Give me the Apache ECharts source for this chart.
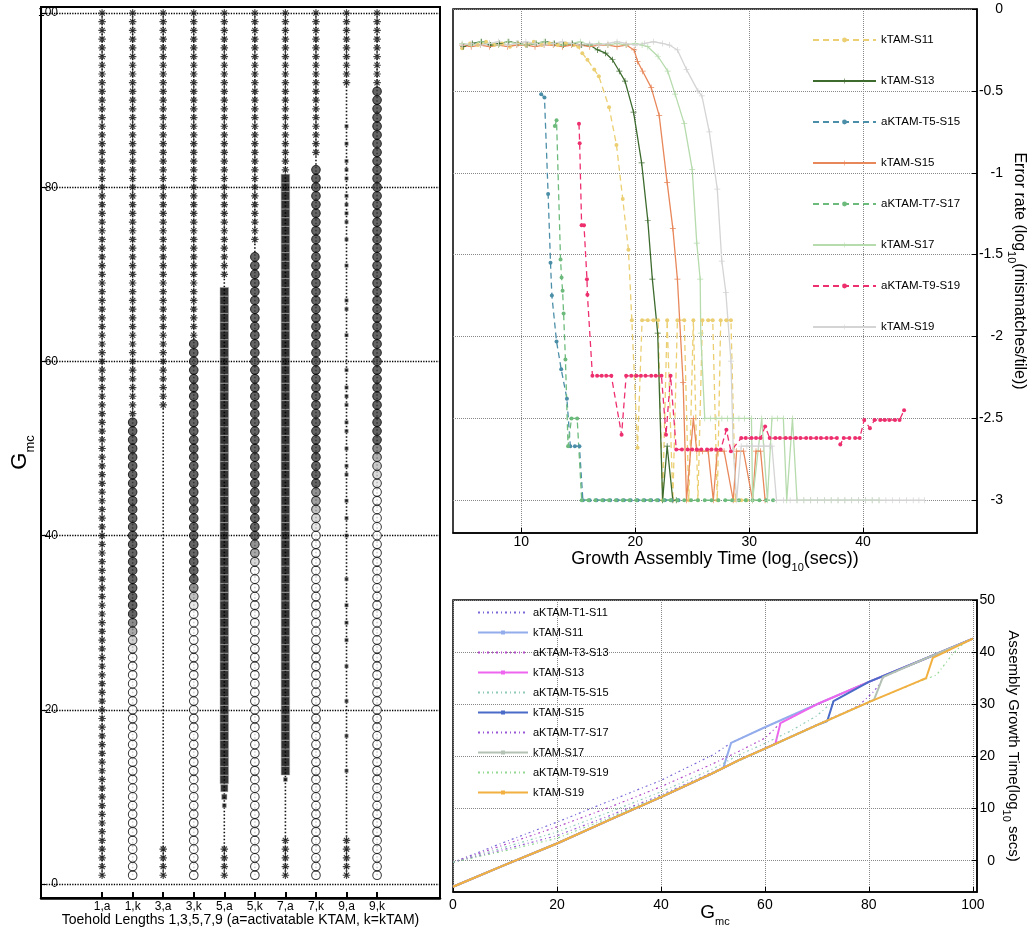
<!DOCTYPE html>
<html>
<head>
<meta charset="utf-8">
<script src="https://cdn.jsdelivr.net/npm/echarts@6.0.0/dist/echarts.min.js"></script>
<style>html,body{margin:0;background:#fff}#main{width:1029px;height:930px}</style>
</head>
<body>
<div id="main"></div>
<script>
// ---------- left panel: toehold columns vs Gmc ----------
var toeholdCols = ['1,a', '1,k', '3,a', '3,k', '5,a', '5,k', '7,a', '7,k', '9,a', '9,k'];
// Gmc ranges drawn with the asterisk mark, per column
var starRuns = [[[1, 100]], [[54, 100]], [[1, 4], [55, 100]], [[63, 100]], [[1, 4], [70, 100]],
                [[74, 100]], [[1, 5], [82, 100]], [[84, 100]], [[1, 5], [92, 100]], [[92, 100]]];
// kTAM columns (1,k 3,k 5,k 7,k 9,k): highest circle, lowest fully dark circle, fading levels below it
var circleTop = [53, 62, 72, 82, 91];
var circleDarkFrom = [31, 35, 40, 46, 51];
var circleFade = [[0.75, 0.55, 0.3, 0.15], [0.7, 0.4, 0.15], [0.7, 0.55, 0.25],
                  [0.7, 0.6, 0.4, 0.25, 0.15], [0.75, 0.5, 0.35, 0.25, 0.15]];
// activatable columns: runs of filled squares [from, to, level]
var blockRuns5a = [[12, 68, 1], [11, 11, 0.8], [10, 10, 0.5], [9, 9, 0.3]];
var blockRuns7a = [[13, 81, 1], [12, 12, 0.3]];
var nineASquares = [87, 85, 83, 82, 81, 79, 78, 77, 76, 74, 71, 67, 66, 63, 59, 57, 56, 55, 53, 52,
                    50, 48, 47, 44, 42, 40, 35, 32, 30, 28, 25, 21, 17, 13];

// ---------- top right: error rate vs growth time ----------
var floorLevel = -3;
var trS11 = [[4.8,-0.24],[5.5,-0.21],[6.2,-0.22],[6.9,-0.2],[7.6,-0.22],[8.3,-0.21],[9.0,-0.23],[9.7,-0.21],[10.4,-0.22],[11.1,-0.2],[11.8,-0.22],[12.5,-0.21],[13.2,-0.22],[13.9,-0.21],[14.6,-0.22],[15.0,-0.23],[15.35,-0.27],[15.8,-0.31],[16.4,-0.37],[16.8,-0.41],[17.7,-0.6],[18.35,-0.83],[18.9,-1.16],[19.4,-1.47],[19.7,-1.9],[20.2,-2.68],[20.6,-1.9],[21.1,-1.9],[21.6,-1.9],[22.0,-1.9],[22.4,-3],[22.8,-1.9],[23.3,-3],[23.7,-1.9],[24.3,-1.9],[24.7,-3],[25.1,-1.9],[25.5,-3],[25.9,-1.9],[26.4,-1.9],[26.8,-1.9],[27.2,-3],[27.5,-1.9],[28.0,-1.9],[28.4,-1.9],[28.8,-3],[29.3,-3],[29.8,-3]];
var trS13 = [[4.9,-0.23],[5.7,-0.21],[6.5,-0.2],[7.3,-0.22],[8.1,-0.21],[8.9,-0.2],[9.7,-0.21],[10.5,-0.22],[11.3,-0.21],[12.1,-0.2],[12.9,-0.21],[13.7,-0.22],[14.5,-0.21],[15.3,-0.22],[16.0,-0.22],[16.7,-0.25],[17.4,-0.27],[18.0,-0.31],[18.6,-0.38],[19.1,-0.44],[19.85,-0.63],[20.56,-0.94],[21.1,-1.29],[21.5,-1.65],[21.97,-1.98],[22.4,-3],[22.8,-2.67],[23.3,-3],[23.6,-3]];
var trT5 = [[11.74,-0.52],[12.03,-0.54],[12.35,-1.13],[12.56,-1.55],[12.68,-1.75],[13.09,-2.03],[13.5,-2.2],[14.0,-2.38],[14.3,-2.67],[14.7,-2.67],[15.1,-2.67],[15.4,-3]];
var trT5Floor = [16.0,16.6,17.2,17.8,18.4,19.0,19.6,20.2,20.8,21.4,22.0,22.6,23.2,23.8];
var trS15 = [[4.8,-0.22],[5.6,-0.23],[6.4,-0.22],[7.2,-0.23],[8.0,-0.22],[8.8,-0.23],[9.6,-0.22],[10.4,-0.22],[11.2,-0.23],[12.0,-0.22],[12.8,-0.22],[13.6,-0.23],[14.4,-0.22],[15.2,-0.22],[16.0,-0.23],[16.8,-0.22],[17.6,-0.22],[18.4,-0.23],[19.2,-0.22],[19.9,-0.25],[20.2,-0.32],[20.65,-0.38],[21.4,-0.48],[22.1,-0.65],[22.8,-1.06],[23.3,-1.34],[23.7,-1.65],[24.2,-2.28],[24.5,-3],[25.1,-2.5],[25.4,-2.7],[25.9,-2.7],[26.4,-2.7],[26.85,-3],[27.2,-2.7],[27.8,-2.7],[28.6,-3],[28.9,-2.7],[29.5,-2.7],[30.3,-3],[30.6,-2.7],[31.0,-2.7],[31.4,-3]];
var trT7 = [[12.94,-0.715],[13.09,-0.68],[13.44,-1.53],[13.53,-1.64],[13.62,-1.72],[13.71,-1.86],[13.87,-2.14],[14.1,-2.67],[14.4,-2.5],[14.9,-2.5],[15.3,-3]];
var trT7Floor = [15.9,16.5,17.1,17.7,18.3,18.9,19.5,20.1,20.7,21.3,21.9,22.5,23.1,23.7,24.3,24.9,25.5,26.1,26.7,27.3,27.9,28.5,29.1,29.7,30.3,30.9,31.5,32.1];
var trS17 = [[4.8,-0.21],[5.6,-0.22],[6.4,-0.2],[7.2,-0.21],[8.0,-0.22],[8.8,-0.2],[9.6,-0.21],[10.4,-0.22],[11.2,-0.21],[12.0,-0.2],[12.8,-0.21],[13.6,-0.22],[14.4,-0.21],[15.2,-0.2],[16.0,-0.22],[16.8,-0.21],[17.6,-0.22],[18.4,-0.21],[19.2,-0.22],[20.0,-0.21],[20.6,-0.22],[21.1,-0.23],[22.0,-0.29],[22.85,-0.38],[23.5,-0.52],[24.3,-0.7],[25.0,-0.98],[25.4,-1.43],[25.7,-1.65],[25.75,-1.98],[26.1,-2.5],[26.6,-2.5],[27.1,-2.5],[27.6,-2.5],[28.1,-2.5],[28.6,-2.5],[29.1,-2.5],[29.6,-2.5],[30.2,-2.5],[30.3,-3],[31.1,-2.5],[31.6,-3],[32.0,-2.5],[32.5,-2.5],[33.0,-2.5],[33.3,-3],[33.8,-2.5],[34.2,-3]];
var trS17Floor = [34.8,35.4,36.0,36.6,37.2,37.8,38.4,39.0,39.6,40.2,40.8,41.4];
var trT9 = [[15.06,-0.7],[15.12,-0.82],[15.29,-1.32],[15.5,-1.32],[15.76,-1.65],[15.8,-1.745],[16.24,-2.24],[16.65,-2.24],[17.05,-2.24],[17.45,-2.24],[17.9,-2.24],[18.8,-2.6],[19.2,-2.24],[19.65,-2.24],[20.1,-2.24],[20.5,-2.24],[20.9,-2.24],[21.4,-2.24],[21.8,-2.24],[22.3,-2.24],[22.7,-2.6],[23.1,-2.24],[23.6,-2.69],[24.1,-2.69],[24.6,-2.69],[25.0,-2.69],[25.4,-2.69],[25.8,-2.69],[26.3,-2.69],[26.7,-2.69],[27.1,-2.69],[27.5,-2.69],[28.0,-2.57],[28.4,-2.7],[29.3,-2.62],[29.7,-2.62],[30.2,-2.62],[30.6,-2.62],[31.0,-2.62],[31.4,-2.55],[31.8,-2.62],[32.3,-2.62],[32.7,-2.62],[33.2,-2.62],[33.6,-2.62],[34.1,-2.62],[34.5,-2.62],[35.0,-2.62],[35.4,-2.62],[35.9,-2.62],[36.3,-2.62],[36.8,-2.62],[37.2,-2.62],[37.7,-2.62],[38.0,-2.66],[38.3,-2.62],[38.8,-2.62],[39.3,-2.62],[39.7,-2.62],[40.1,-2.51],[40.6,-2.56],[41.0,-2.51],[41.5,-2.51],[41.9,-2.51],[42.3,-2.51],[42.8,-2.51],[43.2,-2.51],[43.6,-2.45]];
var trS19 = [[4.8,-0.22],[5.6,-0.21],[6.4,-0.22],[7.2,-0.21],[8.0,-0.2],[8.8,-0.22],[9.6,-0.21],[10.4,-0.2],[11.2,-0.21],[12.0,-0.22],[12.8,-0.21],[13.6,-0.2],[14.4,-0.21],[15.2,-0.22],[16.0,-0.21],[16.8,-0.22],[17.6,-0.21],[18.4,-0.2],[19.2,-0.21],[20.0,-0.22],[20.8,-0.21],[21.6,-0.2],[22.4,-0.21],[23.0,-0.22],[23.7,-0.25],[24.5,-0.37],[25.5,-0.5],[25.85,-0.53],[26.5,-0.75],[27.2,-1.1],[27.6,-1.54],[27.95,-1.73],[28.4,-2.15],[28.6,-2.69],[28.9,-3],[29.3,-2.67],[29.8,-2.67],[30.3,-2.67],[30.8,-2.67],[31.3,-2.67],[31.8,-2.67],[32.0,-2.67],[32.4,-3]];
var trS19Floor = [33.0,33.6,34.2,34.8,35.4,36.0,36.6,37.2,37.8,38.4,39.0,39.6,40.2,40.8,41.4,42.0,42.6,43.2,43.8,44.4,44.9,45.4];

// ---------- bottom right: assembly growth time vs Gmc ----------
var brT1S11 = [[0,-0.3],[10,3.6],[20,7.4],[30,11.4],[40,15.4],[50,20.3],[53.5,22.6],[60,25.6],[70,30.0],[80,34.3],[90,38.4],[100,42.6]];
var brS11 = [[0,-5],[10,-0.8],[20,3.3],[30,7.8],[40,12.2],[50,16.8],[52,17.8],[53.5,22.6],[60,25.6],[70,30.0],[80,34.3],[90,38.4],[100,42.6]];
var brT3S13 = [[0,-0.3],[10,3.1],[20,6.5],[30,10.2],[40,14.2],[50,18.6],[55,21.0],[60,23.5],[63,26.4],[70,30.0],[80,34.3],[90,38.4],[100,42.6]];
var brS13 = [[0,-5],[10,-0.8],[20,3.3],[30,7.8],[40,12.2],[50,16.8],[55,19.3],[60,21.5],[62,22.4],[63,26.4],[70,30.0],[80,34.3],[90,38.4],[100,42.6]];
var brT5S15 = [[0,-0.3],[10,2.6],[20,5.5],[30,9.3],[40,13.2],[50,17.6],[55,20.3],[60,22.5],[65,24.9],[70,27.8],[73.2,30.6],[80,34.3],[90,38.4],[100,42.6]];
var brS15 = [[0,-5],[10,-0.8],[20,3.3],[30,7.8],[40,12.2],[50,16.8],[55,19.3],[60,21.5],[70,26.0],[72,26.8],[73.2,30.6],[80,34.3],[90,38.4],[100,42.6]];
var brT7S17 = [[0,-0.3],[10,2.2],[20,4.8],[30,8.6],[40,12.6],[50,17.0],[60,21.6],[70,26.1],[78,29.7],[81,32.5],[83,35.3],[90,38.4],[100,42.6]];
var brS17 = [[0,-5],[10,-0.8],[20,3.3],[30,7.8],[40,12.2],[50,16.8],[55,19.3],[60,21.5],[70,26.0],[80,30.4],[81,30.9],[82.7,35.2],[90,38.4],[100,42.6]];
var brT9S19 = [[0,-0.3],[10,1.9],[20,4.3],[30,8.2],[40,12.4],[50,16.9],[60,21.4],[70,26.0],[80,30.4],[90,34.5],[93,35.6],[96,39.5],[98,41.5],[100,42.6]];
var brS19 = [[0,-5],[10,-0.8],[20,3.3],[30,7.8],[40,12.2],[50,16.8],[55,19.3],[60,21.5],[70,26.0],[80,30.4],[90,34.6],[91,35.0],[92.3,38.9],[100,42.6]];

var leftTicks = [0, 20, 40, 60, 80, 100];
var errTicks = [0, -0.5, -1, -1.5, -2, -2.5, -3];
var timeTicks = [10, 20, 30, 40];
var gmcTicks = [0, 20, 40, 60, 80, 100];
var growthTicks = [0, 10, 20, 30, 40, 50];

var font = 'Liberation Sans';
var starPath = 'path://M4.2 0h1.6v10h-1.6z M0 4.2h10v1.6h-10z M0.93 2.07L2.07 0.93L9.07 7.93L7.93 9.07z M7.93 0.93L9.07 2.07L2.07 9.07L0.93 7.93z';
var plusPath = 'path://M4.4 0h1.2v4.4h4.4v1.2h-4.4v4.4h-1.2v-4.4h-4.4v-1.2h4.4z';

function shade(level) {
    var g = Math.round(255 - level * 194);
    return 'rgb(' + g + ',' + g + ',' + g + ')';
}
function floorPts(xs) {
    return xs.map(function (x) { return [x, floorLevel]; });
}

// build left panel marks
var starPts = [];
starRuns.forEach(function (runs, i) {
    runs.forEach(function (r) {
        for (var v = r[0]; v <= r[1]; v++) starPts.push([i + 1, v]);
    });
});
var circlePts = [];
circleTop.forEach(function (top, j) {
    var x = 2 * j + 2;
    for (var v = 1; v <= top; v++) {
        var lvl = v >= circleDarkFrom[j] ? 1 : (circleFade[j][circleDarkFrom[j] - 1 - v] || 0);
        circlePts.push({ value: [x, v], itemStyle: { color: shade(lvl) } });
    }
});
var squarePts = [];
[[5, blockRuns5a], [7, blockRuns7a]].forEach(function (c) {
    c[1].forEach(function (r) {
        for (var v = r[0]; v <= r[1]; v++)
            squarePts.push({ value: [c[0], v], symbolSize: 2 + r[2] * 6.5 });
    });
});
nineASquares.forEach(function (v) {
    squarePts.push({ value: [9, v], symbolSize: 3.5 });
});

var columnLines = toeholdCols.map(function (c, i) {
    return {
        type: 'line', xAxisIndex: 0, yAxisIndex: 0, data: [[i + 1, 1], [i + 1, 100]],
        symbol: 'none', silent: true, z: 1,
        lineStyle: { color: '#111', width: 1.6, type: [1.5, 2] }
    };
});

function trLine(name, data, color, dashed) {
    return {
        name: name, type: 'line', xAxisIndex: 1, yAxisIndex: 1, data: data,
        symbol: dashed ? 'circle' : plusPath, symbolSize: dashed ? 4 : 6,
        itemStyle: { color: color },
        lineStyle: { color: color, width: 1.3, type: dashed ? [6, 4] : 'solid' }
    };
}
function brLine(name, data, color, dotted) {
    return {
        name: name + ' ', type: 'line', xAxisIndex: 2, yAxisIndex: 2, data: data,
        symbol: 'rect', symbolSize: 4, showSymbol: false,
        itemStyle: { color: dotted ? 'rgba(0,0,0,0)' : color },
        lineStyle: { color: color, width: dotted ? 1.2 : 2, type: dotted ? [2, 3, 1, 3] : 'solid' }
    };
}

var trSeries = [
    trLine('kTAM-S11', trS11, '#ebcf72', true),
    trLine('kTAM-S13', trS13, '#3d6b2e', false),
    trLine('aKTAM-T5-S15', trT5.concat(floorPts(trT5Floor)), '#4b8ea8', true),
    trLine('kTAM-S15', trS15, '#e8875a', false),
    trLine('aKTAM-T7-S17', trT7.concat(floorPts(trT7Floor)), '#6dbb7c', true),
    trLine('kTAM-S17', trS17.concat(floorPts(trS17Floor)), '#b6dbad', false),
    trLine('aKTAM-T9-S19', trT9, '#ee2f6e', true),
    trLine('kTAM-S19', trS19.concat(floorPts(trS19Floor)), '#d4d4d4', false)
];
var brSeries = [
    brLine('aKTAM-T1-S11', brT1S11, '#7a6ad8', true),
    brLine('kTAM-S11', brS11, '#93acec', false),
    brLine('aKTAM-T3-S13', brT3S13, '#b048c8', true),
    brLine('kTAM-S13', brS13, '#ee66ee', false),
    brLine('aKTAM-T5-S15', brT5S15, '#8fcab8', true),
    brLine('kTAM-S15', brS15, '#4a6cc8', false),
    brLine('aKTAM-T7-S17', brT7S17, '#9a58d8', true),
    brLine('kTAM-S17', brS17, '#b4c2b4', false),
    brLine('aKTAM-T9-S19', brT9S19, '#92d892', true),
    brLine('kTAM-S19', brS19, '#f2b040', false)
];

var dotted = { type: 'dotted', color: '#888', width: 1 };
var sub = { fontSize: 11, verticalAlign: 'bottom', padding: [0, 0, -5, 0], fontFamily: font, color: '#000' };

var myChart = echarts.init(document.getElementById('main'));
var option = {
    animation: false,
    textStyle: { fontFamily: font, color: '#000' },
    grid: [
        { left: 41, top: 7, width: 399, height: 891, show: true, borderColor: '#000', borderWidth: 2,
          containLabel: false, outerBoundsMode: 'none' },
        { left: 453, top: 9, width: 524, height: 524, show: true, borderColor: '#000', borderWidth: 1.5,
          containLabel: false, outerBoundsMode: 'none' },
        { left: 453, top: 600, width: 524, height: 292, show: true, borderColor: '#000', borderWidth: 1.5,
          containLabel: false, outerBoundsMode: 'none' }
    ],
    legend: [
        {
            data: trSeries.map(function (s) { return s.name; }),
            orient: 'vertical', left: 807, top: 29, itemWidth: 63, itemHeight: 6, itemGap: 29,
            selectedMode: false, textStyle: { fontSize: 11.5, color: '#000' }
        },
        {
            data: brSeries.map(function (s) { return s.name; }),
            formatter: function (n) { return n.trim(); },
            orient: 'vertical', left: 472, top: 602, itemWidth: 50, itemHeight: 5, itemGap: 9,
            selectedMode: false, textStyle: { fontSize: 11, color: '#000' }
        }
    ],
    xAxis: [
        {
            gridIndex: 0, type: 'value', min: -1, max: 12.06,
            name: 'Toehold Lengths 1,3,5,7,9 (a=activatable KTAM, k=kTAM)',
            nameLocation: 'middle', nameGap: 15, nameMoveOverlap: false,
            nameTextStyle: { fontSize: 14, color: '#000' },
            axisLine: { onZero: false, lineStyle: { color: '#000', width: 2.5 } },
            axisTick: { customValues: [1, 2, 3, 4, 5, 6, 7, 8, 9, 10], inside: true, length: 6, lineStyle: { color: '#000', width: 2 } },
            axisLabel: { customValues: [1, 2, 3, 4, 5, 6, 7, 8, 9, 10], margin: 3, fontSize: 12, color: '#000',
                formatter: function (v) { return toeholdCols[v - 1]; } },
            splitLine: { show: false }
        },
        {
            gridIndex: 1, type: 'value', min: 4, max: 50,
            name: '{n|Growth Assembly Time (log}{s|10}{n|(secs))}',
            nameLocation: 'middle', nameGap: 17, nameMoveOverlap: false,
            nameTextStyle: { rich: { n: { fontSize: 18, fontFamily: font, color: '#000' }, s: sub } },
            axisLine: { onZero: false, lineStyle: { color: '#000', width: 1.5 } },
            axisTick: { customValues: timeTicks, inside: true, length: 5, lineStyle: { color: '#000' } },
            axisLabel: { customValues: timeTicks, margin: 2, fontSize: 14, color: '#000' },
            splitLine: { show: true, lineStyle: dotted }
        },
        {
            gridIndex: 2, type: 'value', min: 0, max: 100.8,
            name: '{n|G}{s|mc}',
            nameLocation: 'middle', nameGap: 11, nameMoveOverlap: false,
            nameTextStyle: { rich: { n: { fontSize: 19, fontFamily: font, color: '#000' }, s: sub } },
            axisLine: { onZero: false, lineStyle: { color: '#000', width: 1.5 } },
            axisTick: { customValues: gmcTicks, inside: true, length: 5, lineStyle: { color: '#000' } },
            axisLabel: { customValues: gmcTicks, margin: 6, fontSize: 14, color: '#000' },
            splitLine: { show: true, lineStyle: dotted }
        }
    ],
    yAxis: [
        {
            gridIndex: 0, type: 'value', min: -1.61, max: 100.69,
            name: '{n|G}{s|mc}', nameLocation: 'middle', nameGap: 10, nameRotate: 90, nameMoveOverlap: false,
            nameTextStyle: { rich: { n: { fontSize: 22, fontFamily: font, color: '#000' }, s: { fontSize: 13, verticalAlign: 'bottom', padding: [0, 0, -6, 0], fontFamily: font, color: '#000' } } },
            axisLine: { show: true, onZero: false, lineStyle: { color: '#000', width: 2 } },
            axisTick: { customValues: leftTicks, inside: true, length: 5, lineStyle: { color: '#000' } },
            axisLabel: { customValues: leftTicks, margin: -17, fontSize: 12, color: '#000' },
            splitLine: { show: true, lineStyle: { type: 'dotted', color: '#000', width: 1.3 } }
        },
        {
            gridIndex: 1, type: 'value', position: 'right', min: -3.2, max: 0,
            name: '{n|Error rate (log}{s|10}{n|(mismatches/tile))}',
            nameLocation: 'middle', nameGap: 34, nameRotate: -90, nameMoveOverlap: false,
            nameTextStyle: { rich: { n: { fontSize: 16, fontFamily: font, color: '#000' }, s: sub } },
            axisLine: { show: true, onZero: false, lineStyle: { color: '#000', width: 1.5 } },
            axisTick: { customValues: errTicks, inside: true, length: 5, lineStyle: { color: '#000' } },
            axisLabel: { customValues: errTicks, margin: 26, align: 'right', fontSize: 14, color: '#000' },
            splitLine: { show: true, lineStyle: dotted }
        },
        {
            gridIndex: 2, type: 'value', position: 'right', min: -6, max: 50,
            name: '{n|Assembly Growth Time(log}{s|10}{n| secs)}',
            nameLocation: 'middle', nameGap: 29, nameRotate: -90, nameMoveOverlap: false,
            nameTextStyle: { rich: { n: { fontSize: 15, fontFamily: font, color: '#000' }, s: sub } },
            axisLine: { show: true, onZero: false, lineStyle: { color: '#000', width: 1.5 } },
            axisTick: { customValues: growthTicks, inside: true, length: 5, lineStyle: { color: '#000' } },
            axisLabel: { customValues: growthTicks, margin: 18, align: 'right', fontSize: 14, color: '#000' },
            splitLine: { show: true, lineStyle: dotted }
        }
    ],
    series: columnLines.concat([
        {
            type: 'scatter', xAxisIndex: 0, yAxisIndex: 0, data: squarePts, symbol: 'rect', z: 3,
            itemStyle: { color: '#000', borderColor: '#aaa', borderWidth: 0.6 }
        },
        {
            type: 'scatter', xAxisIndex: 0, yAxisIndex: 0, data: circlePts, symbol: 'circle', symbolSize: 8.6, z: 3,
            itemStyle: { borderColor: '#000', borderWidth: 1 }
        },
        {
            type: 'scatter', xAxisIndex: 0, yAxisIndex: 0, data: starPts, symbol: starPath, symbolSize: 7.5, z: 3,
            itemStyle: { color: '#111' }
        }
    ]).concat(trSeries).concat(brSeries)
};
myChart.setOption(option);
</script>
</body>
</html>
